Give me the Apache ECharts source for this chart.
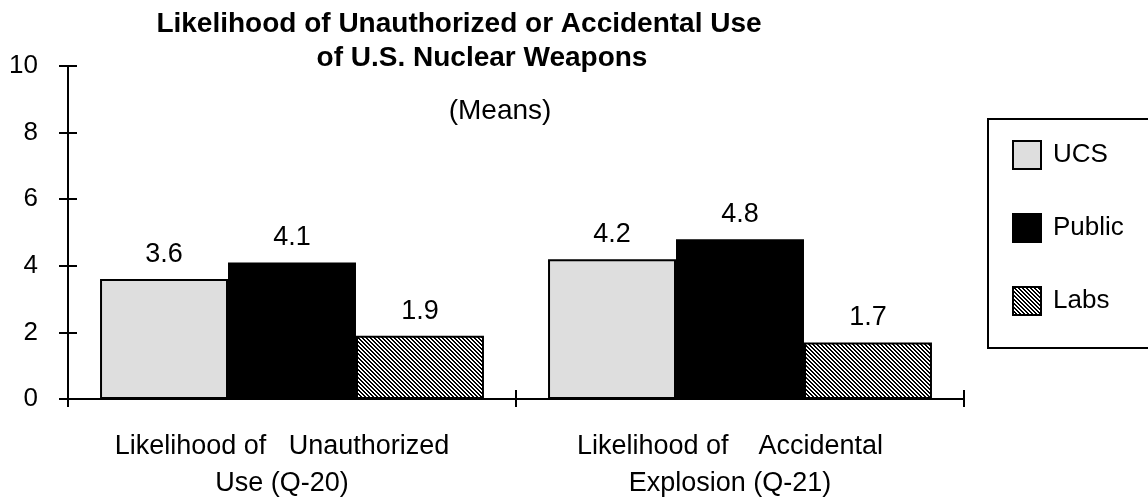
<!DOCTYPE html>
<html>
<head>
<meta charset="utf-8">
<script src="https://cdn.jsdelivr.net/npm/echarts@6/dist/echarts.min.js"></script>
<style>
  html, body { margin: 0; padding: 0; background: #fff; }
  #chart { width: 1148px; height: 502px; }
</style>
</head>
<body>
<div id="chart"></div>
<script>
"use strict";

const categories = [
  "Likelihood of   Unauthorized\nUse (Q-20)",
  "Likelihood of    Accidental\nExplosion (Q-21)",
];
const seriesNames = ["UCS", "Public", "Labs"];
const ucsValues = [3.6, 4.2];
const publicValues = [4.1, 4.8];
const labsValues = [1.9, 1.7];
const yTicks = { min: 0, max: 10, interval: 2 };
const titleLines = [
  "Likelihood of Unauthorized or Accidental Use",
  "of U.S. Nuclear Weapons",
  "(Means)",
];

const FONT = "'Liberation Sans', Arial, Helvetica, sans-serif";

// crisp diagonal hatch (top-left to bottom-right) for the Labs bars
function makeHatch() {
  const size = 4;
  const c = document.createElement("canvas");
  c.width = size;
  c.height = size;
  const ctx = c.getContext("2d");
  ctx.fillStyle = "#fff";
  ctx.fillRect(0, 0, size, size);
  ctx.fillStyle = "#000";
  for (let y = 0; y < size; y++) {
    for (let x = 0; x < size; x++) {
      const d = (((x - y) % size) + size) % size;
      if (d < 2) ctx.fillRect(x, y, 1, 1);
    }
  }
  return c;
}

const chart = echarts.init(document.getElementById("chart"));

const labelStyle = {
  show: true,
  position: "top",
  distance: 11,
  color: "#000",
  fontSize: 27,
  fontFamily: FONT,
};

const grid = { left: 68, right: 184, top: 66, bottom: 102 };

chart.setOption({
  backgroundColor: "#fff",
  animation: false,
  textStyle: { fontFamily: FONT, color: "#000" },

  graphic: [
    {
      type: "text",
      style: {
        text: titleLines[0], x: 459, y: 24, align: "center", verticalAlign: "middle",
        font: "bold 28px " + FONT, fill: "#000",
      },
    },
    {
      type: "text",
      style: {
        text: titleLines[1], x: 482, y: 58, align: "center", verticalAlign: "middle",
        font: "bold 28px " + FONT, fill: "#000",
      },
    },
    {
      type: "text",
      style: {
        text: titleLines[2], x: 500, y: 111, align: "center", verticalAlign: "middle",
        font: "28px " + FONT, fill: "#000",
      },
    },
    {
      // legend frame
      type: "rect",
      shape: { x: 988, y: 119, width: 180, height: 229 },
      style: { fill: "none", stroke: "#000", lineWidth: 2 },
    },
  ],

  legend: {
    orient: "vertical",
    left: 1012,
    top: 140,
    padding: 0,
    itemWidth: 28,
    itemHeight: 28,
    itemGap: 43,
    icon: "rect",
    data: seriesNames,
    textStyle: { fontSize: 26, fontFamily: FONT, color: "#000", padding: [0, 0, 0, 7] },
  },

  grid,

  xAxis: [
    {
      type: "category",
      data: categories,
      axisLine: { lineStyle: { color: "#000", width: 2 } },
      axisTick: { show: true, length: 8, lineStyle: { color: "#000", width: 2 } },
      axisLabel: {
        interval: 0,
        fontSize: 27,
        lineHeight: 37,
        margin: 29,
        color: "#000",
        fontFamily: FONT,
        padding: [0, 20, 0, 0],
      },
    },
    {
      type: "category",
      data: categories,
      position: "bottom",
      axisLine: { show: false },
      axisTick: { show: true, inside: true, length: 9, lineStyle: { color: "#000", width: 2 } },
      axisLabel: { show: false },
    },
  ],

  yAxis: [
    {
      type: "value",
      min: yTicks.min,
      max: yTicks.max,
      interval: yTicks.interval,
      axisLine: { show: true, lineStyle: { color: "#000", width: 2 } },
      axisTick: { show: true, length: 9, lineStyle: { color: "#000", width: 2 } },
      axisLabel: { fontSize: 26, margin: 30, color: "#000", fontFamily: FONT },
      splitLine: { show: false },
    },
    {
      type: "value",
      position: "left",
      offset: 0,
      min: yTicks.min,
      max: yTicks.max,
      interval: yTicks.interval,
      axisLine: { show: false },
      axisTick: { show: true, inside: true, length: 9, lineStyle: { color: "#000", width: 2 } },
      axisLabel: { show: false },
      splitLine: { show: false },
    },
  ],

  series: [
    {
      name: seriesNames[0],
      type: "bar",
      data: ucsValues,
      barGap: "0%",
      barCategoryGap: "14.3%",
      itemStyle: { color: "#dedede", borderColor: "#000", borderWidth: 2 },
      label: labelStyle,
    },
    {
      name: seriesNames[1],
      type: "bar",
      data: publicValues,
      barGap: "0%",
      barCategoryGap: "14.3%",
      itemStyle: { color: "#000", borderColor: "#000", borderWidth: 2 },
      label: labelStyle,
    },
    {
      name: seriesNames[2],
      type: "bar",
      data: labsValues,
      barGap: "0%",
      barCategoryGap: "14.3%",
      itemStyle: {
        color: { image: makeHatch(), repeat: "repeat" },
        borderColor: "#000",
        borderWidth: 2,
      },
      label: labelStyle,
    },
  ],
});
</script>
</body>
</html>
